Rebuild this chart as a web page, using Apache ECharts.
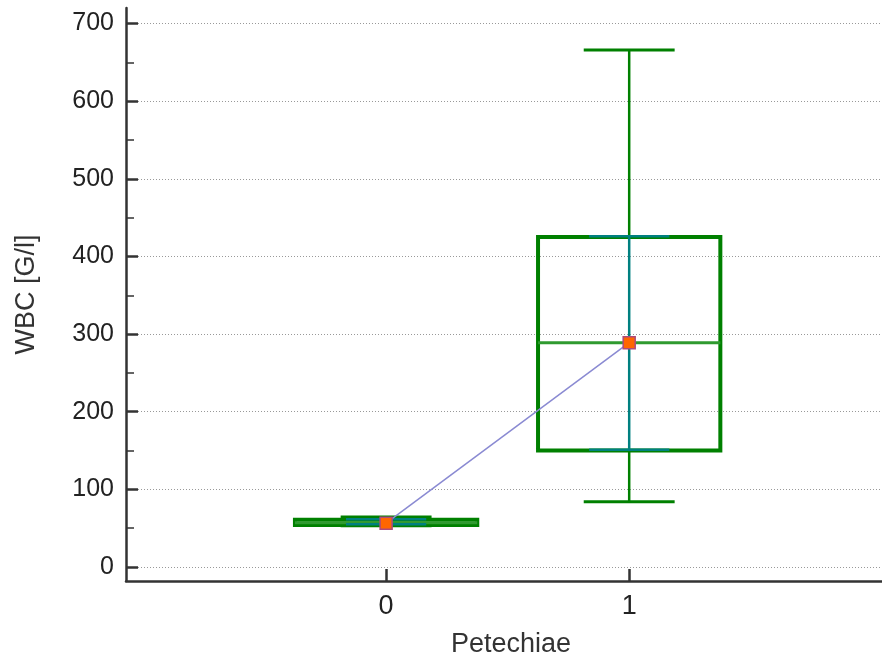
<!DOCTYPE html>
<html>
<head>
<meta charset="utf-8">
<script src="https://cdn.jsdelivr.net/npm/echarts@6/dist/echarts.min.js"></script>
<style>html,body{margin:0;padding:0;background:#fff}#c{width:882px;height:659px}</style>
</head>
<body>
<div id="c"></div>
<script>
var categories = [0, 1];
var whiskerLow = [53, 84];
var q1 = [54, 150];
var median = [57, 289];
var q3 = [61, 425];
var whiskerHigh = [64.5, 666];
var ciLow = [55, 151];
var ciHigh = [61.5, 426];
var means = [56.5, 289];
var yMajorTicks = [0, 100, 200, 300, 400, 500, 600, 700];
var yMinorTicks = [50, 150, 250, 350, 450, 550, 650];
var xTicks = [0, 1];

var FONT = 'Liberation Sans, Arial, sans-serif';
var NARROW = 'Liberation Sans Narrow, Arial Narrow, Liberation Sans, sans-serif';
var boxData = categories.map(function (c, i) {
  return [c, whiskerLow[i], q1[i], median[i], q3[i], whiskerHigh[i], ciLow[i], ciHigh[i]];
});
var meanData = categories.map(function (c, i) { return [c, means[i]]; });

function renderBox(params, api) {
  var x = api.value(0);
  var lo = api.coord([x, api.value(1)]);
  var b1 = api.coord([x, api.value(2)]);
  var md = api.coord([x, api.value(3)]);
  var b3 = api.coord([x, api.value(4)]);
  var hi = api.coord([x, api.value(5)]);
  var cl = api.coord([x, api.value(6)]);
  var ch = api.coord([x, api.value(7)]);
  var halfBox = api.size([0.375, 0])[0];
  var halfCap = api.size([0.187, 0])[0];
  var halfCi = api.size([0.165, 0])[0];
  var cx = lo[0];
  var green = '#008000', teal = '#008080';
  function line(x1, y1, x2, y2, color, w) {
    return { type: 'line', shape: { x1: x1, y1: y1, x2: x2, y2: y2 }, style: { stroke: color, lineWidth: w } };
  }
  return {
    type: 'group',
    children: [
      line(cx, hi[1], cx, b3[1], green, 2.5),
      line(cx, b1[1], cx, lo[1], green, 2.5),
      line(cx - halfCap, hi[1], cx + halfCap, hi[1], green, 3),
      line(cx - halfCap, lo[1], cx + halfCap, lo[1], green, 3),
      { type: 'rect', shape: { x: cx - halfBox, y: b3[1], width: 2 * halfBox, height: b1[1] - b3[1] },
        style: { fill: 'none', stroke: green, lineWidth: 4 } },
      line(cx - halfBox, md[1], cx + halfBox, md[1], '#2f9a2f', 3),
      line(cx, ch[1], cx, cl[1], teal, 2.5),
      line(cx - halfCi, ch[1], cx + halfCi, ch[1], teal, 2.5),
      line(cx - halfCi, cl[1], cx + halfCi, cl[1], teal, 2.5)
    ]
  };
}

var chart = echarts.init(document.getElementById('c'));
chart.setOption({
  animation: false,
  backgroundColor: '#fff',
  grid: { left: 126, right: 0, top: 8, bottom: 78, outerBoundsMode: 'none', containLabel: false },
  xAxis: {
    type: 'value', min: -1.07, max: 2.04,
    name: 'Petechiae', nameLocation: 'middle', nameGap: 50,
    nameTextStyle: { fontFamily: FONT, fontSize: 27, color: '#333', padding: [0, 0, 0, 14] },
    axisLine: { show: true, onZero: false, lineStyle: { color: '#333', width: 2.5 } },
    axisTick: { show: true, inside: true, length: 12, customValues: xTicks, lineStyle: { color: '#333', width: 2.5 } },
    axisLabel: { customValues: xTicks, fontFamily: NARROW, fontSize: 27, color: '#222', margin: 12 },
    splitLine: { show: false }
  },
  yAxis: [{
    type: 'value', min: -18, max: 720,
    name: 'WBC [G/l]', nameLocation: 'middle', nameGap: 86,
    nameTextStyle: { fontFamily: FONT, fontSize: 27, color: '#333' },
    axisLine: { show: true, onZero: false, lineStyle: { color: '#333', width: 2.5 } },
    axisTick: { show: true, inside: true, length: 12, customValues: yMajorTicks, lineStyle: { color: '#333', width: 2.5 } },
    axisLabel: { customValues: yMajorTicks, fontFamily: FONT, fontSize: 25, color: '#222', margin: 12 },
    splitLine: { show: true, lineStyle: { color: '#999', type: [1, 2], width: 1 } }
  }, {
    type: 'value', min: -18, max: 720, position: 'left',
    axisLine: { show: false, onZero: false },
    axisTick: { show: true, inside: true, length: 8, customValues: yMinorTicks, lineStyle: { color: '#333', width: 1.5 } },
    axisLabel: { show: false },
    splitLine: { show: false }
  }],
  series: [{
    type: 'custom',
    renderItem: renderBox,
    data: boxData,
    encode: { x: 0, y: [1, 2, 3, 4, 5] },
    clip: false,
    z: 2
  }, {
    type: 'line',
    data: meanData,
    symbol: 'rect',
    symbolSize: 12,
    lineStyle: { color: '#8a8ad2', width: 1.5 },
    itemStyle: { color: '#ff6600', borderColor: '#b04a7a', borderWidth: 1.5 },
    z: 5
  }]
});
</script>
</body>
</html>
